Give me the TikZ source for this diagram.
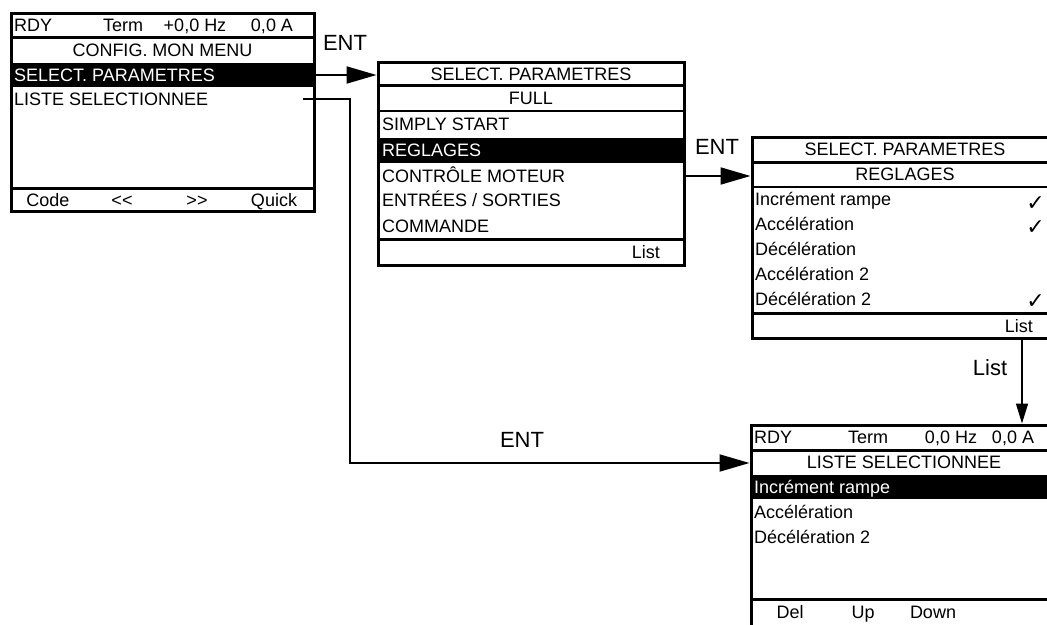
\documentclass[tikz,border=0pt]{standalone}
\usepackage{fontspec}
\setmainfont{Liberation Sans}
\newfontfamily\symf{DejaVu Sans}
\usetikzlibrary{arrows.meta}
\tikzset{
  frame/.style={draw, line width=3pt, rectangle, inner sep=0pt},
  txt/.style={font=\fontsize{18}{21}\selectfont, inner sep=0pt, anchor=base},
  txtl/.style={txt, anchor=base west},
  txtr/.style={txt, anchor=base east},
  inv/.style={txtl, text=white},
  lbl/.style={font=\fontsize{22}{26}\selectfont, inner sep=0pt},
  chk/.style={font=\symf\fontsize{22}{24}\selectfont, inner sep=0pt, anchor=base east},
  septhick/.style={line width=3pt},
  septhin/.style={line width=1.5pt},
  bigarrow/.style={line width=2pt, -{Triangle[length=30pt,width=17pt]}},
  smallarrow/.style={line width=1.5pt, -{Triangle[length=20pt,width=12pt]}},
}
\begin{document}
\begin{tikzpicture}[x=1pt,y=-1pt]
\useasboundingbox (0,0) rectangle (1047,624);
\begin{scope}
\clip (0,0) rectangle (1047,624);
% ---------- highlighted rows ----------
\fill (11,63) rectangle (314,87);
\fill (378,138) rectangle (684,163);
\fill (751,475) rectangle (1058,499);
% ---------- frames ----------
\node[frame, minimum width=303pt, minimum height=198pt] (b1) at (162.5,112) {};
\node[frame, minimum width=306pt, minimum height=203pt] (b2) at (531,163.5) {};
\node[frame, minimum width=306pt, minimum height=201pt] (b3) at (905,237.5) {};
\node[frame, minimum width=307pt, minimum height=203pt] (b4) at (904.5,526.5) {};
% ---------- separators ----------
\draw[septhick] (11,37) -- (314,37);
\draw[septhick] (11,188) -- (314,188);
\draw[septhick] (378,85) -- (684,85);
\draw[septhin] (378,111) -- (684,111);
\draw[septhick] (378,239) -- (684,239);
\draw[septhick] (752,162) -- (1058,162);
\draw[septhin] (752,187) -- (1058,187);
\draw[septhick] (752,313) -- (1058,313);
\draw[septhick] (751,450) -- (1058,450);
\draw[septhick] (751,599) -- (1058,599);
% ---------- box 1 ----------
\node[txtl] (b1rdy) at (14,31.5) {RDY};
\node[txt] (b1term) at (123,31.5) {Term};
\node[txt] (b1hz) at (195,31.5) {+0,0 Hz};
\node[txt] (b1a) at (272,31.5) {0,0 A};
\node[txt] (b1title) at (162.5,56.5) {CONFIG. MON MENU};
\node[inv] (b1sel) at (14,81.5) {SELECT. PARAMETRES};
\node[txtl] (b1lst) at (14,105.5) {LISTE SELECTIONNEE};
\node[txt] (b1f1) at (48,206.5) {Code};
\node[txt] (b1f2) at (122,206.5) {<\kern0pt<};
\node[txt] (b1f3) at (197,206.5) {>\kern0pt>};
\node[txt] (b1f4) at (274,206.5) {Quick};
% ---------- box 2 ----------
\node[txt] (b2title) at (531,80.5) {SELECT. PARAMETRES};
\node[txt] (b2full) at (531,104.5) {FULL};
\node[txtl] (b2r1) at (382,130.5) {SIMPLY START};
\node[inv] (b2r2) at (382,156.5) {REGLAGES};
\node[txtl] (b2r3) at (382,182.5) {CONTRÔLE MOTEUR};
\node[txtl] (b2r4) at (382,206.5) {ENTRÉES / SORTIES};
\node[txtl] (b2r5) at (382,232.5) {COMMANDE};
\node[txtr] (b2list) at (660,258.5) {List};
% ---------- box 3 ----------
\node[txt] (b3title) at (905,155.5) {SELECT. PARAMETRES};
\node[txt] (b3sub) at (905,180.5) {REGLAGES};
\node[txtl] (b3r1) at (755,205.5) {Incrément rampe};
\node[txtl] (b3r2) at (755,230.5) {Accélération};
\node[txtl] (b3r3) at (755,255.5) {Décélération};
\node[txtl] (b3r4) at (755,280.5) {Accélération 2};
\node[txtl] (b3r5) at (755,305.5) {Décélération 2};
\node[chk] (b3c1) at (1045,210) {✓};
\node[chk] (b3c2) at (1045,234) {✓};
\node[chk] (b3c5) at (1045,308) {✓};
\node[txtr] (b3list) at (1033,332.5) {List};
% ---------- box 4 ----------
\node[txtl] (b4rdy) at (754,443.5) {RDY};
\node[txt] (b4term) at (868,443.5) {Term};
\node[txt] (b4hz) at (951,443.5) {0,0 Hz};
\node[txt] (b4a) at (1013,443.5) {0,0 A};
\node[txt] (b4title) at (904,468.5) {LISTE SELECTIONNEE};
\node[inv] (b4r1) at (754,493) {Incrément rampe};
\node[txtl] (b4r2) at (754,518) {Accélération};
\node[txtl] (b4r3) at (754,543) {Décélération 2};
\node[txt] (b4f1) at (790,618) {Del};
\node[txt] (b4f2) at (863,618) {Up};
\node[txt] (b4f3) at (933,618) {Down};
% ---------- labels ----------
\node[lbl] (ent1) at (345,43) {ENT};
\node[lbl] (ent2) at (717,147) {ENT};
\node[lbl] (ent3) at (522,440) {ENT};
\node[lbl] (lst) at (990,368) {List};
% ---------- connectors ----------
\coordinate (a1) at (0,75);
\coordinate (a2) at (0,176);
\coordinate (a3) at (0,463);
\draw[bigarrow] (b1.east |- a1) -- (b2.west |- a1);
\draw[bigarrow] (b2.east |- a2) -- (b3.west |- a2);
\coordinate (c3start) at (303,99);
\coordinate (c3bend) at (350,99);
\draw[bigarrow] (c3start) -- (c3bend) -- (c3bend |- a3) -- (b4.west |- a3);
\coordinate (c4x) at (1022,0);
\draw[smallarrow] (c4x |- b3.south) -- (c4x |- b4.north);
\end{scope}
\end{tikzpicture}
\end{document}
